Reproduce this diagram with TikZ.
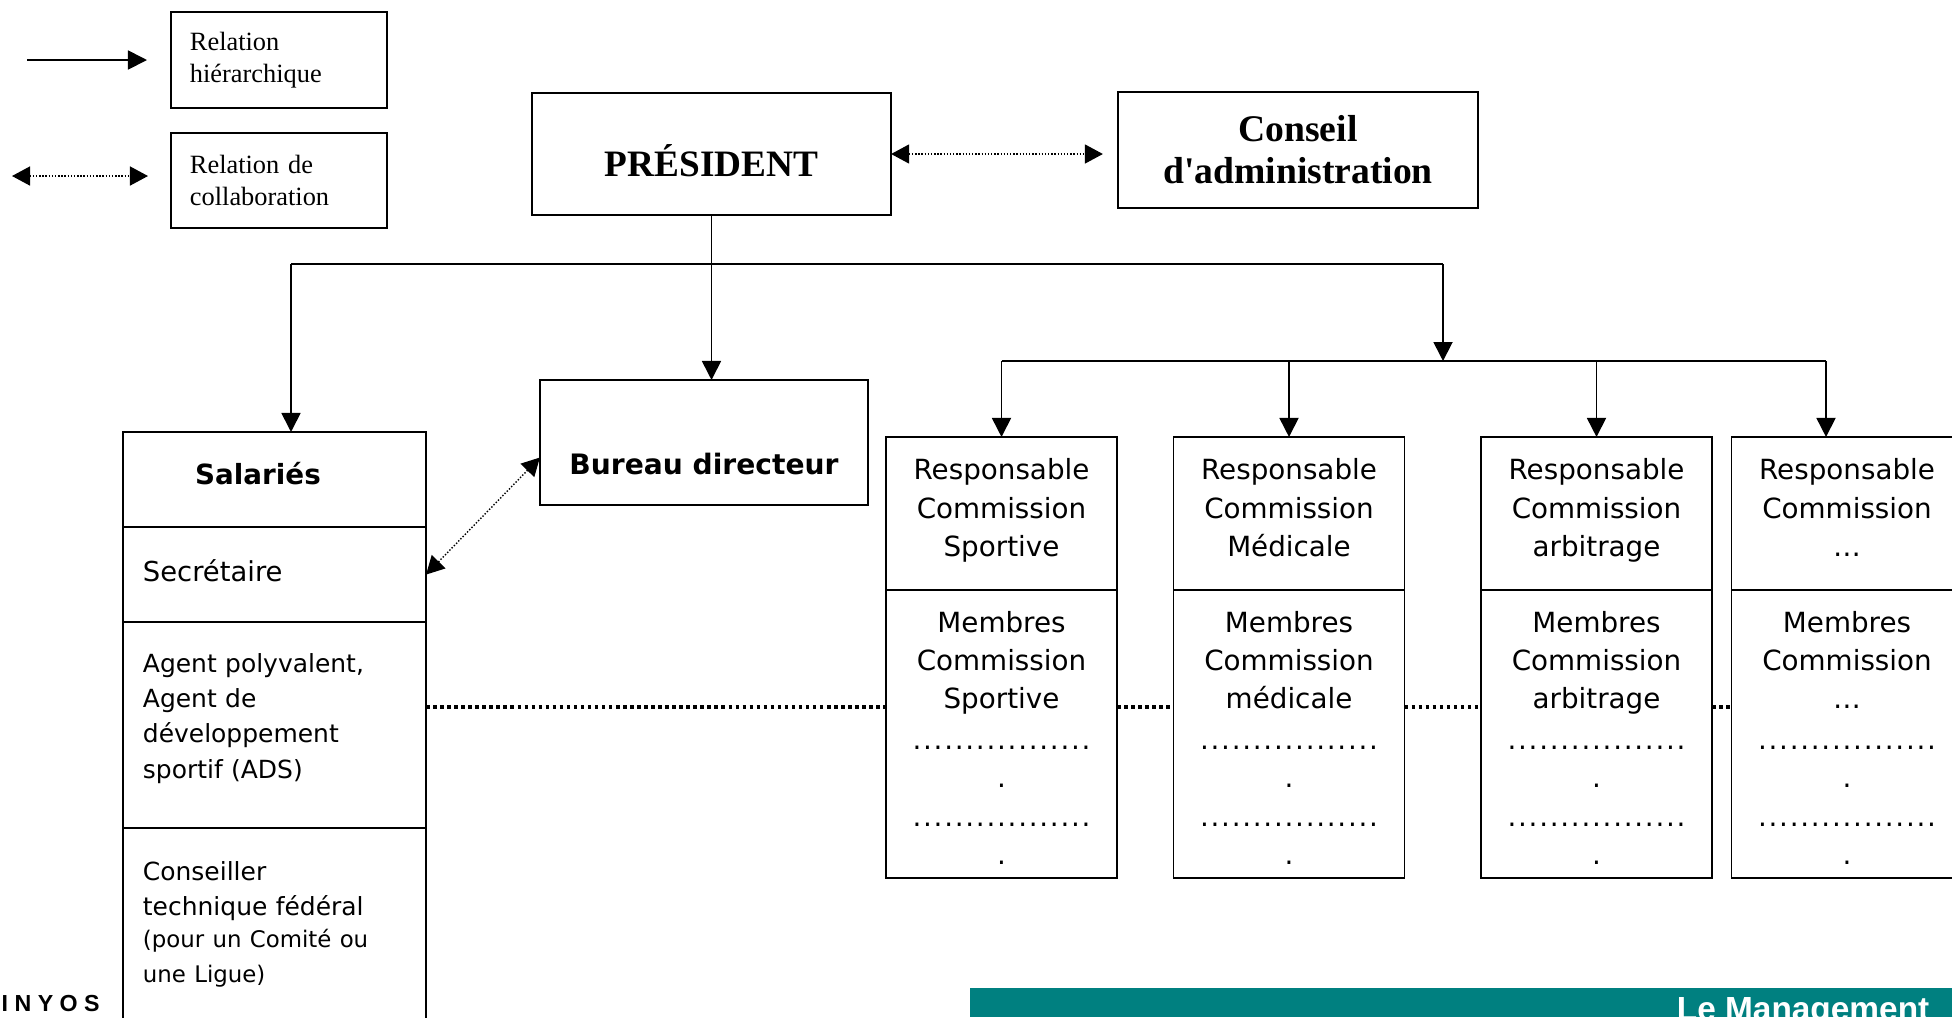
\documentclass[tikz,border=0pt]{standalone}
\usepackage{fontspec}
\setmainfont{Liberation Serif}
\newfontfamily\tahomaFont{DejaVu Sans}
\newfontfamily\arialFont{Liberation Sans}
\usetikzlibrary{positioning, arrows.meta}
\tikzstyle{sheet} = [x = 0.01cm, y = -0.01cm]
\definecolor{barColor}{RGB}{0,128,128}
\tikzstyle{boxStyle} = [draw, line width = 0.5pt, inner sep = 0pt, outer sep = 0pt, align = center]
\tikzstyle{legendBox} = [boxStyle, line width = 0.4pt, minimum width = 2.16cm, text width = 1.78cm, inner xsep = 0.19cm, align = left, font = \fontsize{7.5}{8.9}\selectfont]
\tikzstyle{hierArrow} = [line width = 0.5pt, -{Triangle[length = 0.19cm, width = 0.19cm]}]
\tikzstyle{collabArrow} = [line width = 0.4pt, dash pattern = on 0.4pt off 0.5pt, {Triangle[length = 0.18cm, width = 0.19cm]}-{Triangle[length = 0.18cm, width = 0.19cm]}]
\tikzstyle{dottedLink} = [line width = 1pt, dash pattern = on 1pt off 1pt]
\tikzstyle{commText} = [font = \tahomaFont\fontsize{7.9}{10.9}\selectfont]
\tikzstyle{respBox} = [boxStyle, commText, minimum width = 2.31cm, minimum height = 1.53cm]
\tikzstyle{membBox} = [boxStyle, commText, minimum width = 2.31cm, minimum height = 2.88cm]
\tikzstyle{salBox} = [boxStyle, minimum width = 3.03cm, text width = 2.63cm, inner xsep = 0.2cm, align = left]
\newcommand{\ellipsisRow}{\hbox to 1.8cm{\xleaders\hbox to 0.1cm{\hss.\hss}\hfill}}
\newcommand{\commission}[4]{
  \node [respBox] (resp#1) at (#2, 513.5) {Responsable\\Commission\\#3\strut};
  \node [membBox, below = 0pt of resp#1] (memb#1) {\rule{0pt}{8.1pt}Membres\\Commission\\#4\\[0.7pt]\ellipsisRow\\.\\\ellipsisRow\\.};
}

\begin{document}
\begin{tikzpicture}[sheet]
  \useasboundingbox (0, 0) rectangle (1952, 1017);
  \clip (0, 0) rectangle (1952, 1017);

  \node [legendBox, minimum height = 0.96cm] (legHier) at (279, 60) {Relation\\hiérarchique};
  \node [legendBox, minimum height = 0.95cm] (legCollab) at (279, 180.5) {Relation de\\collaboration};
  \coordinate (hierStart) at (27, 60);
  \coordinate (hierEnd) at (147, 60);
  \coordinate (collabStart) at (12, 176);
  \coordinate (collabEnd) at (148, 176);
  \draw [hierArrow] (hierStart) -- (hierEnd);
  \draw [collabArrow] (collabStart) -- (collabEnd);

  \node [boxStyle, minimum width = 3.59cm, minimum height = 1.22cm, text height = 0.44cm, text depth = 0pt, font = \bfseries\fontsize{10.6}{12}\selectfont] (president) at (711.5, 154) {PRÉSIDENT};
  \node [boxStyle, minimum width = 3.6cm, minimum height = 1.16cm, font = \bfseries\fontsize{10.7}{12}\selectfont] (conseil) at (1298, 150) {Conseil\\d\textquotesingle administration};
  \draw [collabArrow, shorten > = 0.15cm] (president.east) -- (president.east -| conseil.west);

  \node [boxStyle, minimum width = 3.28cm, minimum height = 1.25cm, text height = 0.63cm, text depth = 0pt, font = \tahomaFont\bfseries\fontsize{8}{10}\selectfont] (bureau) at (704, 442.5) {Bureau directeur};

  \node [salBox, minimum height = 0.95cm, text depth = 0.12cm, font = \tahomaFont\bfseries\fontsize{7.9}{10}\selectfont] (salaries) at (274.5, 479.5) {\makebox[2.3cm]{Salariés}};
  \node [salBox, below = 0pt of salaries, minimum height = 0.95cm, text depth = 0.075cm, font = \tahomaFont\fontsize{7.8}{10}\selectfont] (secretaire) {Secrétaire};
  \node [salBox, below = 0pt of secretaire, minimum height = 2.06cm, text depth = 1.24cm, font = \tahomaFont\fontsize{7.1}{10}\selectfont] (agent) {Agent polyvalent,\\Agent de\\développement\\sportif (ADS)};
  \node [salBox, below = 0pt of agent, minimum height = 1.92cm, font = \tahomaFont\fontsize{7.1}{10}\selectfont] (conseiller) {Conseiller\\technique fédéral\par\fontsize{6.5}{9.2}\selectfont(pour un Comité ou\\une Ligue)};
  \draw [collabArrow] (secretaire.east) -- ([yshift = -0.15cm] bureau.west);

  \commission{Sport}{1001.5}{Sportive}{Sportive}
  \commission{Med}{1289}{Médicale}{médicale}
  \commission{Arb}{1596.5}{arbitrage}{arbitrage}
  \commission{Autre}{1847}{…}{…}

  \coordinate (busLeft) at (291, 264);
  \coordinate (busRight) at (1443, 264);
  \coordinate (commBus) at (1443, 361);
  \coordinate (commEnd) at (1826, 361);
  \draw [hierArrow] (president.south) -- (president.south |- bureau.north);
  \draw [line width = 0.5pt] (busLeft) -- (busRight);
  \draw [hierArrow] (busLeft) -- (busLeft |- salaries.north);
  \draw [hierArrow] (busRight) -- (commBus);
  \draw [line width = 0.5pt] (respSport.north |- commBus) -- (commEnd);
  \foreach \name in {Sport, Med, Arb} {
    \draw [hierArrow] (resp\name.north |- commBus) -- (resp\name.north);
  }
  \draw [hierArrow] (commEnd) -- (commEnd |- respAutre.north);

  \coordinate (dotRow) at (0, 707);
  \draw [dottedLink] (agent.east |- dotRow) -- (membSport.west |- dotRow);
  \foreach \fromBox/\toBox in {Sport/Med, Med/Arb, Arb/Autre} {
    \draw [dottedLink] (memb\fromBox.east |- dotRow) -- (memb\toBox.west |- dotRow);
  }

  \fill [barColor] (970, 988) rectangle (1952, 1017);
  \node [anchor = base east, inner sep = 0pt, text = white, font = \arialFont\bfseries\fontsize{9.5}{11}\selectfont] (management) at (1930, 1020) {Le Management};
  \node [anchor = west, inner sep = 0pt, font = \arialFont\bfseries\fontsize{6.6}{8}\selectfont] (inyos) at (1, 1003) {I N Y O S};
\end{tikzpicture}
\end{document}
